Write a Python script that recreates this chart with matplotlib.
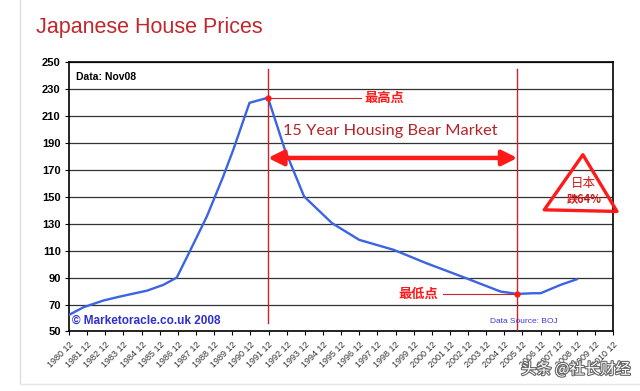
import numpy as np
import matplotlib as mpl
mpl.use('agg')
import matplotlib.pyplot as plt
from matplotlib.patches import Polygon
import matplotlib.patheffects as pe

plt.rcParams['font.family'] = ['Liberation Sans', 'DejaVu Sans']
CJK = ['Noto Sans CJK SC', 'DejaVu Sans']

# index values (year, price index)
years = [1980.0, 1980.8, 1981.9, 1982.8, 1984.3, 1985.2, 1985.94, 1986.7,
         1987.6, 1988.5, 1989.06, 1989.95, 1990.97, 1991.9, 1992.96, 1994.5,
         1996.0, 1997.9, 1999.7, 2001.9, 2003.8, 2004.72, 2005.6, 2006.0,
         2007.1, 2008.0]
prices = [62.3, 68.0, 73.0, 75.9, 80.3, 84.6, 90.0, 110.6,
          135.4, 165.0, 185.0, 219.7, 223.5, 185.0, 150.2, 130.4,
          118.0, 110.6, 100.7, 89.5, 79.6, 77.9, 78.4, 78.4,
          84.6, 88.8]
tick_years = list(range(1980, 2011))
tick_labels = ['%d 12' % y for y in tick_years]
peak_year, peak_val = 1990.97, 223.5
low_year, low_val = 2004.72, 77.9

fig = plt.figure(figsize=(6.4, 3.91), dpi=100)
ax = fig.add_axes([0.1078, 0.1522, 0.8503, 0.6892])

RED = '#ff1a1a'
DRED = '#c0282d'

ax.plot(years, prices, color='#3b63e3', lw=1.7, zorder=3)

ax.set_xlim(1980, 2010)
ax.set_ylim(50, 250)
ax.set_yticks(np.arange(50, 251, 20))
ax.yaxis.grid(True, color='#333333', lw=0.9)
ax.set_axisbelow(True)
ax.set_xticks(tick_years)
ax.set_xticklabels(tick_labels, rotation=45, ha='right', va='top',
                   rotation_mode='anchor', fontsize=6.5, color='#333333')
ax.tick_params(axis='x', length=3, width=0.8, pad=3)
ax.tick_params(axis='y', length=3, width=0.8, labelsize=8, pad=3)
for lab in ax.get_yticklabels():
    lab.set_fontweight('bold')
for s in ax.spines.values():
    s.set_color('black')
    s.set_linewidth(1.2)

# title
fig.text(0.056, 0.93, 'Japanese House Prices', color=DRED, fontsize=15.5,
         ha='left', va='center')

# vertical markers
ax.plot([peak_year, peak_year], [244.5, 56.3], color='#c0282d', lw=1.0,
        zorder=4)
ax.plot([low_year, low_year], [244.5, 50], color='#c0282d', lw=1.0,
        zorder=4)

# peak / low annotations
ax.plot([peak_year, 1996.1], [peak_val, peak_val], color=DRED,
        lw=0.8, zorder=4)
ax.plot(peak_year, peak_val, 'o', color=RED, ms=3.5, zorder=5)
ax.text(1996.3, peak_val, '最高点', color=RED, fontsize=9.5, fontweight='bold',
        ha='left', va='center', family=CJK)
ax.plot([2000.6, low_year], [low_val, low_val], color=DRED, lw=0.8,
        zorder=4)
ax.plot(low_year, low_val, 'o', color=RED, ms=3.5, zorder=5)
ax.text(2000.35, low_val, '最低点', color=RED, fontsize=9.5, fontweight='bold',
        ha='right', va='center', family=CJK)

# bear market arrow
ax.text(1991.8, 198.6, '15 Year Housing Bear Market', color='#b5232a',
        fontsize=11.8, family='Lato', ha='left', va='center')
ax.annotate('', xy=(low_year, 178.8), xytext=(peak_year, 178.8),
            arrowprops=dict(arrowstyle='<|-|>,head_length=0.9,head_width=0.45',
                            color=RED, lw=3.2, shrinkA=0, shrinkB=0),
            zorder=6)

# hand drawn triangle
tri = Polygon([[2008.33, 181.2], [2006.2, 140.3], [2010.21, 139.1]],
              closed=True, fill=False, edgecolor=RED, lw=2.4,
              joinstyle='round', clip_on=False, zorder=6)
ax.add_patch(tri)
ax.text(2008.35, 159.5, '日本', color='#d01818', fontsize=9, ha='center',
        va='center', family=CJK)
ax.text(2008.4, 148.3, '跌64%', color='#d01818', fontsize=8,
        fontweight='bold', ha='center', va='center', family=CJK)

# in-chart labels
ax.text(0.012, 0.945, 'Data: Nov08', transform=ax.transAxes, fontsize=7.5,
        fontweight='bold', ha='left', va='center')
ax.text(0.005, 0.04, '© Marketoracle.co.uk 2008', transform=ax.transAxes,
        fontsize=8.5, fontweight='bold', color='#2f2fd0', ha='left',
        va='center')
ax.text(0.774, 0.038, 'Data Source: BOJ', transform=ax.transAxes,
        fontsize=6, color='#3a3ad8', ha='left', va='center')

# slide frame + watermark
fig.add_artist(plt.Line2D([0.032, 0.032], [0.02, 1.0], color='#dddddd',
                          lw=1.0))
fig.add_artist(plt.Line2D([0.032, 1.0], [0.018, 0.018], color='#e6e6e6',
                          lw=1.0))
fig.text(0.985, 0.055, '头条 @社长财经', color='white', fontsize=11,
         ha='right', va='center', family=CJK,
         path_effects=[pe.withStroke(linewidth=1.6, foreground='#666666')])

fig.savefig('out.png', dpi=100)
